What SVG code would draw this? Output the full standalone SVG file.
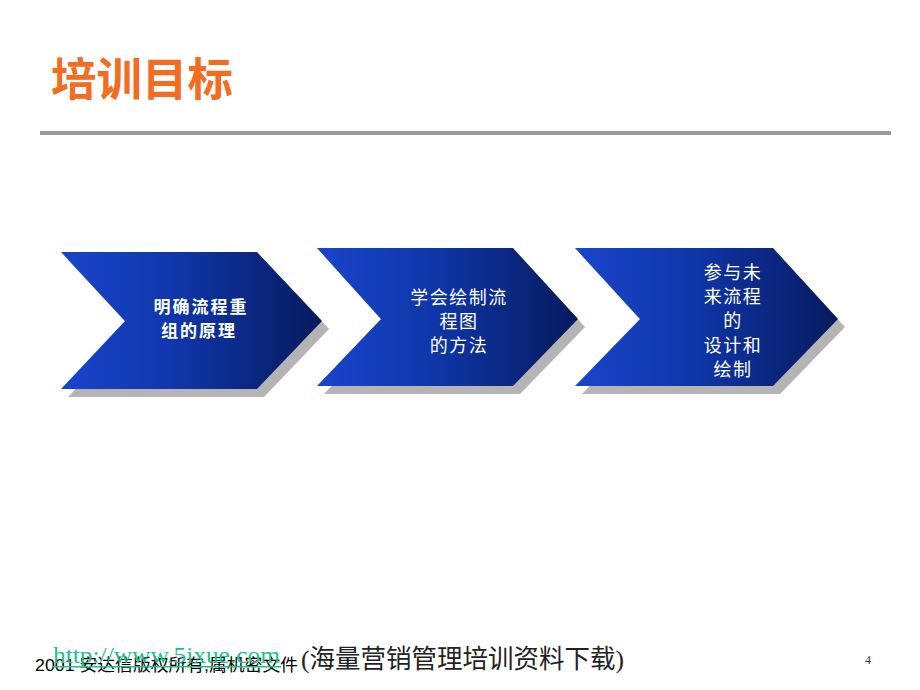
<svg xmlns="http://www.w3.org/2000/svg" width="920" height="690" viewBox="0 0 920 690">
<defs>
<linearGradient id="blue" x1="0" y1="0" x2="1" y2="0">
<stop offset="0" stop-color="#1a45cc"/>
<stop offset="0.45" stop-color="#0f36a8"/>
<stop offset="1" stop-color="#061a5e"/>
</linearGradient>
<style>
.shadow{fill:#b4b4b4}
.chev{fill:url(#blue)}
.lbl{fill:#ffffff;font-family:"Noto Sans CJK SC","Noto Sans",sans-serif;font-size:18px;letter-spacing:1.5px;text-anchor:middle}
.lbl1{fill:#ffffff;font-family:"Noto Sans CJK SC","Noto Sans",sans-serif;font-size:17px;font-weight:bold;letter-spacing:2px;text-anchor:middle}
</style>
</defs>
<rect width="920" height="690" fill="#ffffff"/>
<text x="51" y="96" font-family="Noto Sans CJK SC, sans-serif" font-size="45" font-weight="bold" fill="#f36c1f" textLength="182" lengthAdjust="spacingAndGlyphs">培训目标</text>
<rect x="40" y="131" width="851" height="4" fill="#9a9a9a"/>
<g id="connectors"/>
<g id="step1">
<polygon class="shadow" points="68,260 264,260 329,329 264,397 68,397 132,329"/>
<polygon class="chev" points="61,252 257,252 322,321 257,389 61,389 125,321"/>
<text class="lbl1" x="201" y="313">明确流程重</text>
<text class="lbl1" x="199" y="337">组的原理</text>
</g>
<g id="step2">
<polygon class="shadow" points="324,256 520,256 585,327 520,394 324,394 388,327"/>
<polygon class="chev" points="317,248 513,248 578,319 513,386 317,386 381,319"/>
<text class="lbl" x="459" y="304">学会绘制流</text>
<text class="lbl" x="459" y="328">程图</text>
<text class="lbl" x="459" y="352">的方法</text>
</g>
<g id="step3">
<polygon class="shadow" points="582,256 780,256 845,327 780,394 582,394 647,327"/>
<polygon class="chev" points="575,248 773,248 838,319 773,386 575,386 640,319"/>
<text class="lbl" x="733" y="279">参与未</text>
<text class="lbl" x="733" y="303">来流程</text>
<text class="lbl" x="733" y="327">的</text>
<text class="lbl" x="733" y="352">设计和</text>
<text class="lbl" x="733" y="376">绘制</text>
</g>
<text x="35" y="671" font-family="Liberation Sans, Noto Sans CJK SC, sans-serif" font-size="17" fill="#000000" textLength="263" lengthAdjust="spacingAndGlyphs">2001  安达信版权所有,属机密文件</text>
<text x="53" y="663" font-family="Liberation Serif, serif" font-size="24" fill="#1fbf8c" textLength="227" lengthAdjust="spacingAndGlyphs">http://www.5ixue.com</text>
<rect x="53" y="666" width="228" height="1.5" fill="#1fbf8c"/>
<text x="301" y="668" font-family="Liberation Serif, Noto Sans CJK SC, serif" font-size="26" fill="#222222" textLength="323" lengthAdjust="spacingAndGlyphs">(海量营销管理培训资料下载)</text>
<text x="865" y="664" font-family="Liberation Serif, serif" font-size="12" fill="#333333">4</text>
</svg>
